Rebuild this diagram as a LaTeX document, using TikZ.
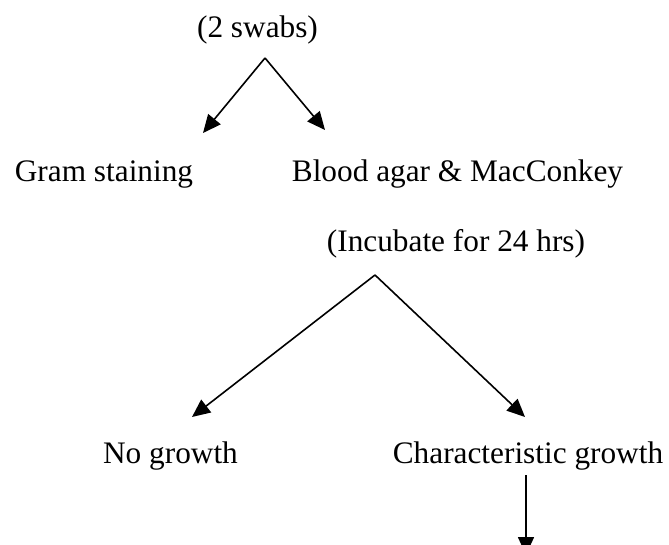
\documentclass[tikz,border=0pt]{standalone}
\usepackage{fontspec}
\setmainfont{Liberation Serif}
\usetikzlibrary{arrows.meta}
\begin{document}
\begin{tikzpicture}[x=0.5pt,y=-0.5pt,
  lbl/.style={anchor=base,inner sep=0pt,font=\fontsize{15.65}{18}\selectfont},
  arr/.style={line width=0.8pt,-{Triangle[length=9pt,width=8pt]}}]
\clip (0,0) rectangle (669,545);
\useasboundingbox (0,0) rectangle (669,545);
\node[lbl] (swabs) at (257.5,38) {(2 swabs)};
\node[lbl] (gram) at (104,182) {Gram staining};
\node[lbl] (blood) at (457.5,182) {Blood agar \& MacConkey};
\node[lbl] (incub) at (456,252) {(Incubate for 24 hrs)};
\node[lbl] (nogrowth) at (170.5,463) {No growth};
\node[lbl] (chargrowth) at (528,463) {Characteristic growth};
\coordinate (a1) at (265,58);
\coordinate (t1) at (203,133);
\coordinate (t2) at (325,130);
\coordinate (a2) at (375,275);
\coordinate (t3) at (192,417);
\coordinate (t4) at (525,417);
\coordinate (d0) at (526,475);
\coordinate (d1) at (526,555);
\draw[arr] (a1) -- (t1);
\draw[arr] (a1) -- (t2);
\draw[arr] (a2) -- (t3);
\draw[arr] (a2) -- (t4);
\draw[arr] (d0) -- (d1);
\end{tikzpicture}
\end{document}
